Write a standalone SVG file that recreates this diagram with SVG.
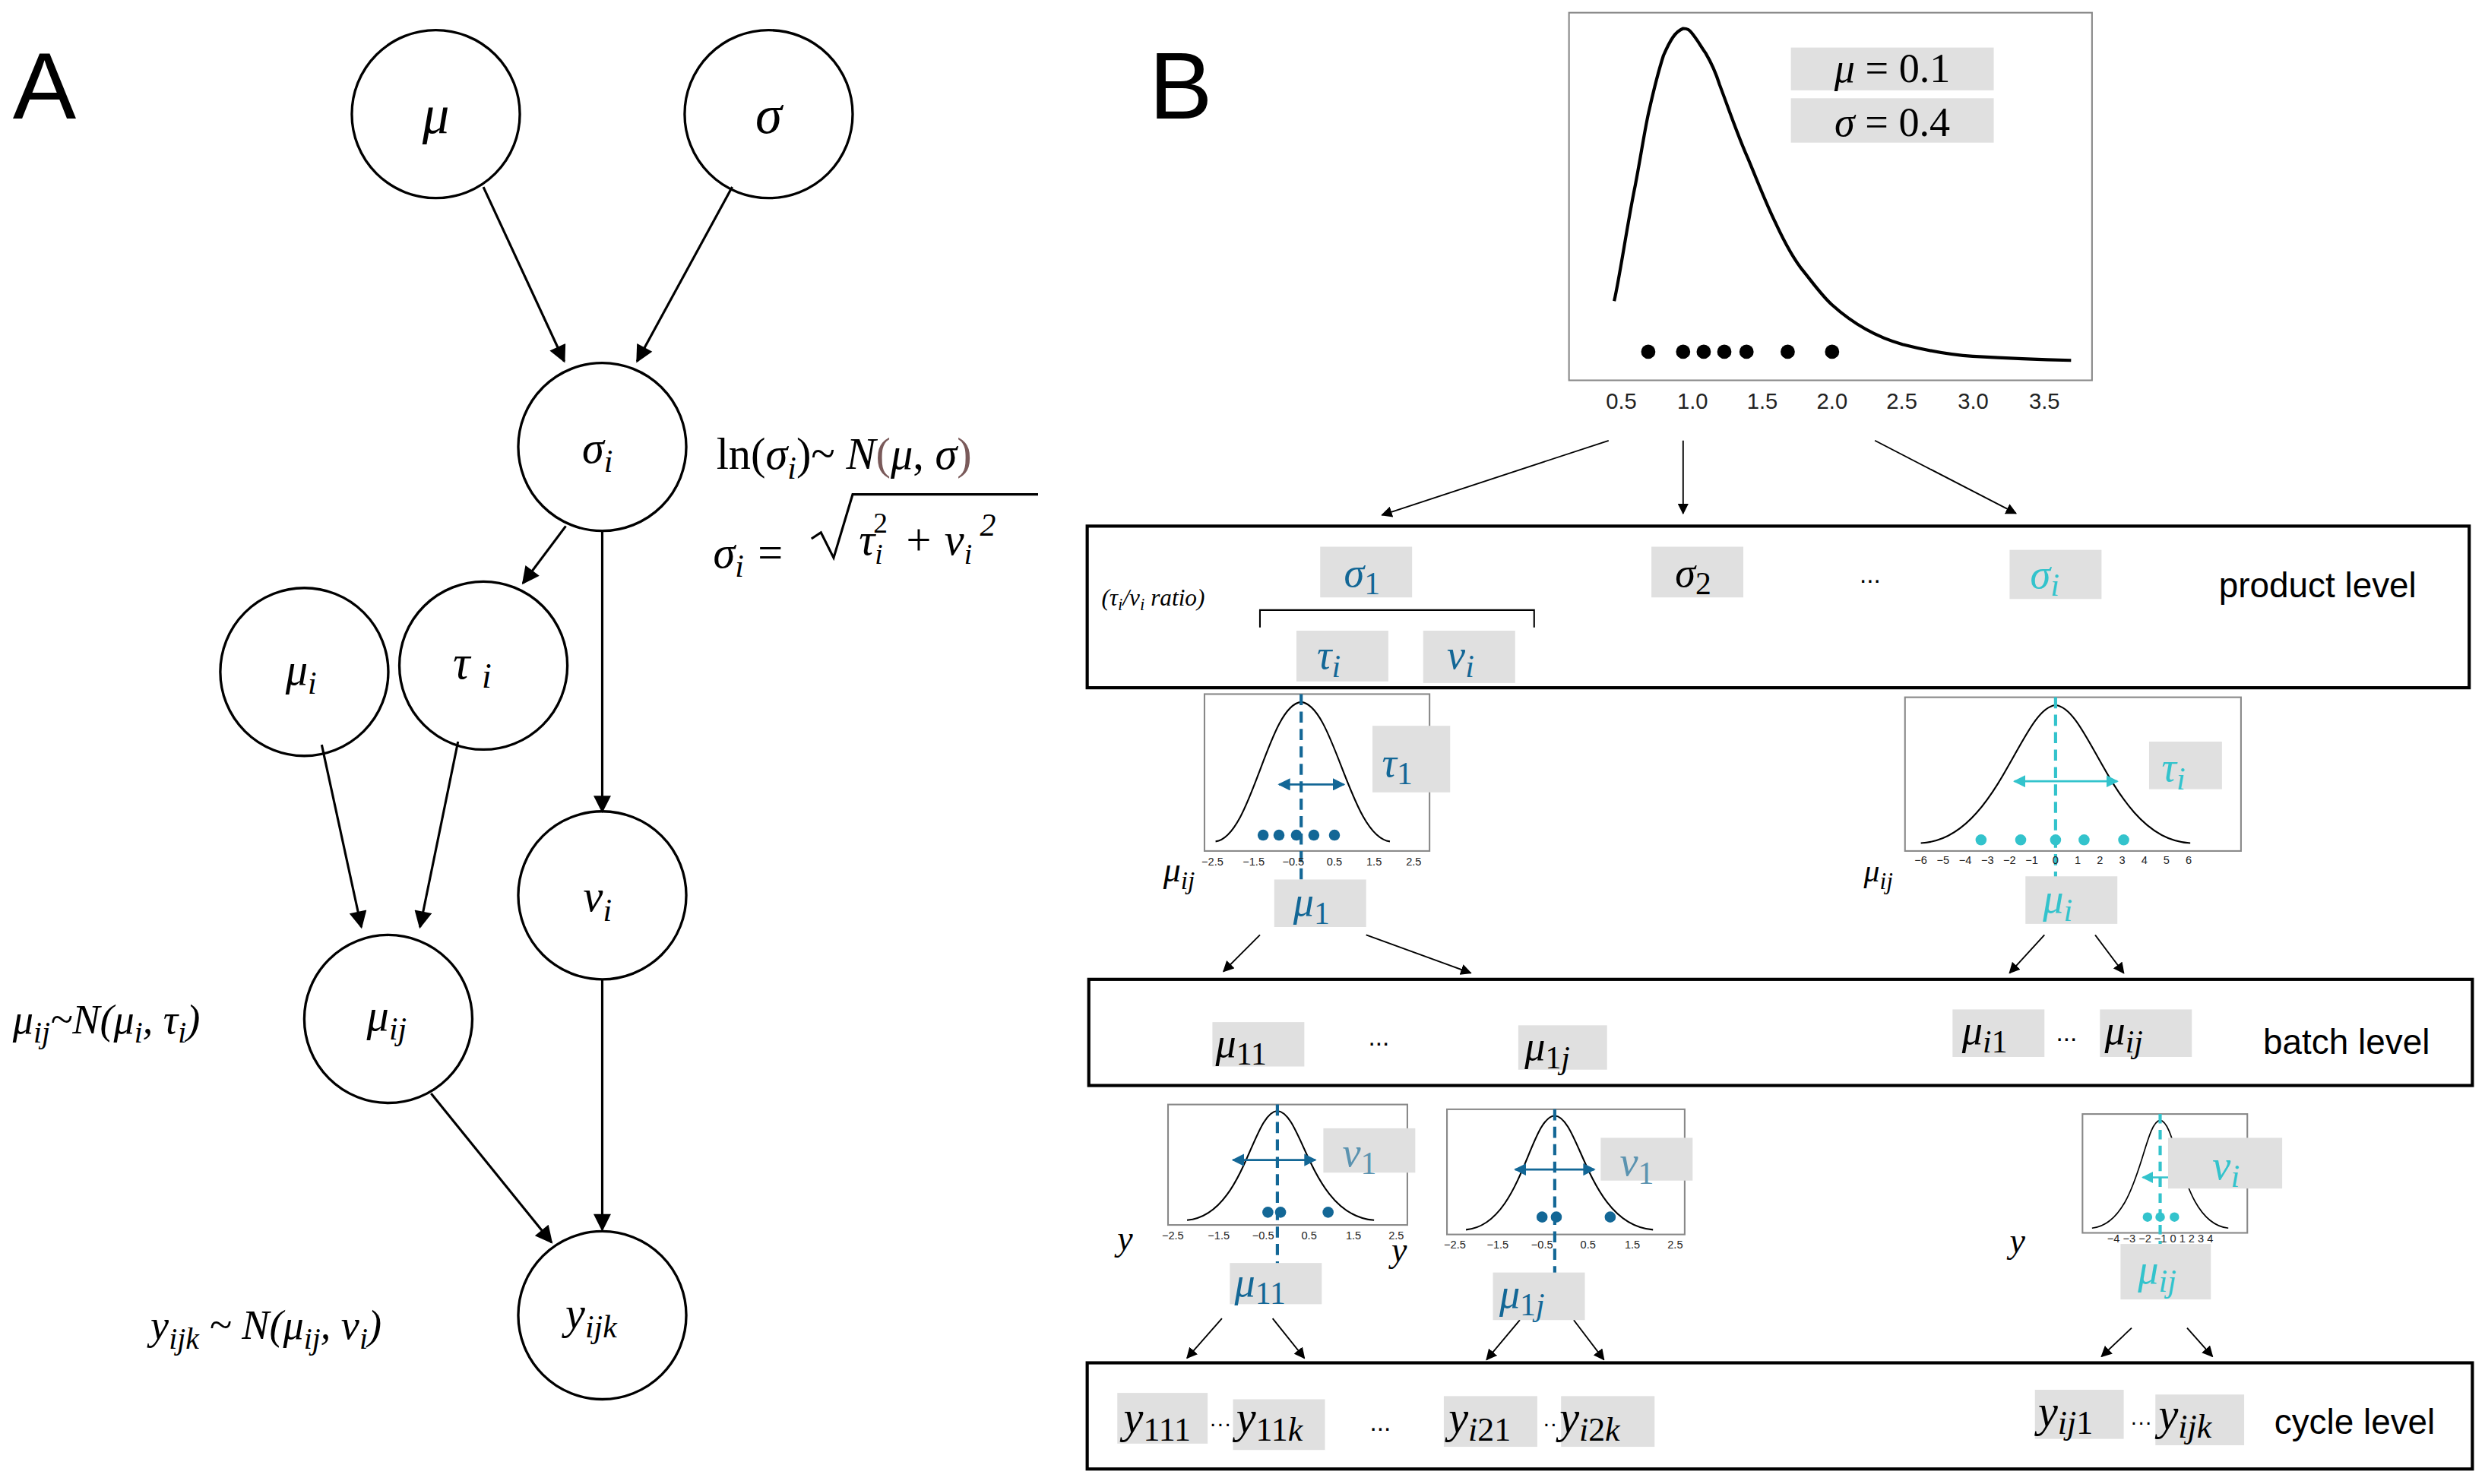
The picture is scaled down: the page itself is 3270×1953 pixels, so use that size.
<svg xmlns="http://www.w3.org/2000/svg" width="3270" height="1953" viewBox="0 0 3270 1953">
<defs>
<marker id="ah" viewBox="0 0 10 10" refX="9" refY="5" markerWidth="7" markerHeight="7" markerUnits="userSpaceOnUse" orient="auto"><path d="M0,0 L10,5 L0,10 z" fill="#000"/></marker>
<marker id="ahA" viewBox="0 0 10 10" refX="9" refY="5" markerWidth="13" markerHeight="11" markerUnits="userSpaceOnUse" orient="auto"><path d="M0,0 L10,5 L0,10 z" fill="#000"/></marker>
<marker id="ahb" viewBox="0 0 10 10" refX="9" refY="5" markerWidth="6" markerHeight="6" orient="auto-start-reverse"><path d="M0,0 L10,5 L0,10 z" fill="#136796"/></marker>
<marker id="ahc" viewBox="0 0 10 10" refX="9" refY="5" markerWidth="6" markerHeight="6" orient="auto-start-reverse"><path d="M0,0 L10,5 L0,10 z" fill="#33c3cc"/></marker>
<style>
.n{fill:#fff;stroke:#000;stroke-width:1.6}
.m{font-family:"Liberation Serif",serif;font-style:italic}
.r{font-family:"Liberation Serif",serif}
.u{font-style:normal}
.s{font-family:"Liberation Sans",Arial,sans-serif}
.g{fill:#e0e0e0}
.lv{fill:none;stroke:#000;stroke-width:2}
.pb{fill:#fff;stroke:#888;stroke-width:1}
.e{stroke:#000;stroke-width:1.5;fill:none;marker-end:url(#ahA)}
.t{stroke:#000;stroke-width:0.9;fill:none;marker-end:url(#ah)}
.bl{fill:#136796}.cy{fill:#33c3cc}.lb{fill:#5b93b0}
.tk{font-family:"Liberation Sans",Arial,sans-serif;font-size:7px;fill:#222}
</style>
</defs>
<rect width="3270" height="1953" fill="#fff"/>
<g transform="scale(2.0855)">
<g id="panelA">
<text x="8" y="75" class="s" font-size="60">A</text>
<g id="mu"><circle cx="275" cy="72" r="53" class="n"/><text x="275" y="84" class="m" font-size="34" text-anchor="middle">μ</text></g>
<g id="sigma"><circle cx="485" cy="72" r="53" class="n"/><text x="485" y="84" class="m" font-size="34" text-anchor="middle">σ</text></g>
<g id="sigma_i"><circle cx="380" cy="282" r="53" class="n"/><text x="377" y="292" class="m" font-size="28" text-anchor="middle">σ<tspan font-size="20" dy="6">i</tspan></text></g>
<g id="mu_i"><circle cx="192" cy="424" r="53" class="n"/><text x="190" y="432" class="m" font-size="28" text-anchor="middle">μ<tspan font-size="20" dy="6">i</tspan></text></g>
<g id="tau_i"><circle cx="305" cy="420" r="53" class="n"/><text x="298" y="428" class="m" font-size="30" text-anchor="middle">τ <tspan font-size="22" dy="6">i</tspan></text></g>
<g id="v_i"><circle cx="380" cy="565" r="53" class="n"/><text x="377" y="575" class="m" font-size="28" text-anchor="middle">v<tspan font-size="20" dy="6">i</tspan></text></g>
<g id="mu_ij"><circle cx="245" cy="643" r="53" class="n"/><text x="244" y="650" class="m" font-size="28" text-anchor="middle">μ<tspan font-size="20" dy="6">ij</tspan></text></g>
<g id="y_ijk"><circle cx="380" cy="830" r="53" class="n"/><text x="373" y="838" class="m" font-size="28" text-anchor="middle">y<tspan font-size="20" dy="6">ijk</tspan></text></g>
<g id="edgesA">
<line x1="305" y1="118" x2="356" y2="228" class="e"/>
<line x1="462" y1="118" x2="402" y2="228" class="e"/>
<line x1="357" y1="332" x2="330" y2="368" class="e"/>
<line x1="380" y1="335" x2="380" y2="512" class="e"/>
<line x1="203" y1="470" x2="228" y2="585" class="e"/>
<line x1="289" y1="468" x2="265" y2="585" class="e"/>
<line x1="272" y1="690" x2="348" y2="784" class="e"/>
<line x1="380" y1="618" x2="380" y2="776" class="e"/>
</g>
<g id="formulas">
<text x="452" y="296" class="r" font-size="28">ln(<tspan class="m">σ</tspan><tspan class="m" font-size="20" dy="6">i</tspan><tspan dy="-6">)~ </tspan><tspan class="m">N</tspan><tspan fill="#7a5a5a">(</tspan><tspan class="m">μ</tspan>, <tspan class="m">σ</tspan><tspan fill="#7a5a5a">)</tspan></text>
<text x="450" y="358" class="m" font-size="28">σ<tspan font-size="20" dy="6">i</tspan><tspan class="r" dy="-6"> =</tspan></text>
<path d="M512,340 L518,336 L526,352 L538,312 L655,312" fill="none" stroke="#000" stroke-width="1.5"/>
<text x="542" y="350" class="m" font-size="28">τ<tspan font-size="18" dy="6">i</tspan><tspan font-size="18" class="u" dx="-6" dy="-20">2</tspan><tspan class="r" dy="14" dx="10">+ </tspan><tspan>v</tspan><tspan font-size="18" dy="6">i</tspan><tspan font-size="20" dy="-18" class="r"> 2</tspan></text>
<text x="8" y="652" class="m" font-size="26">μ<tspan font-size="19" dy="6">ij</tspan><tspan class="r" dy="-6">~N(</tspan>μ<tspan font-size="19" dy="6">i</tspan><tspan class="r" dy="-6">,</tspan> τ<tspan font-size="19" dy="6">i</tspan><tspan class="r" dy="-6">)</tspan></text>
<text x="95" y="845" class="m" font-size="26">y<tspan font-size="19" dy="6">ijk</tspan><tspan class="r" dy="-6"> ~ </tspan>N<tspan class="r">(</tspan>μ<tspan font-size="19" dy="6">ij</tspan><tspan class="r" dy="-6">,</tspan> v<tspan font-size="19" dy="6">i</tspan><tspan class="r" dy="-6">)</tspan></text>
</g>
</g>

<g id="panelB">
<text x="725" y="75" class="s" font-size="60">B</text>
<g id="topplot">
<rect x="990" y="8" width="330" height="232" class="pb"/>
<path d="M1018.5,190 C1022,175 1027,140 1031.8,117 C1036,95 1038,80 1040.7,69 C1045,50 1048,40 1049.6,35 C1054,25 1057,20 1062,18 C1065,18 1066,19 1067.3,20.6 C1071,25 1073,29 1076.2,33.5 C1080,40 1083,47 1085,53.4 C1092,72 1097,87 1102.8,99.7 C1110,117 1115,130 1120.5,141 C1127,155 1132,164 1138.3,171.6 C1145,180 1150,187 1156,192.4 C1170,205 1185,213 1200.4,217.3 C1215,221 1230,224 1244.7,224.8 C1265,226 1290,227 1306.8,227.4" fill="none" stroke="#000" stroke-width="2"/>
<g fill="#000"><circle cx="1040" cy="222" r="4.5"/><circle cx="1062" cy="222" r="4.5"/><circle cx="1075" cy="222" r="4.5"/><circle cx="1088" cy="222" r="4.5"/><circle cx="1102" cy="222" r="4.5"/><circle cx="1128" cy="222" r="4.5"/><circle cx="1156" cy="222" r="4.5"/></g>
<g class="s" font-size="14" text-anchor="middle" fill="#222"><text x="1023" y="258">0.5</text><text x="1068" y="258">1.0</text><text x="1112" y="258">1.5</text><text x="1156" y="258">2.0</text><text x="1200" y="258">2.5</text><text x="1245" y="258">3.0</text><text x="1290" y="258">3.5</text></g>
<rect x="1130" y="30" width="128" height="27" class="g"/><text x="1194" y="52" class="r" font-size="26" text-anchor="middle"><tspan class="m">μ</tspan> = 0.1</text>
<rect x="1130" y="62" width="128" height="28" class="g"/><text x="1194" y="86" class="r" font-size="26" text-anchor="middle"><tspan class="m">σ</tspan> = 0.4</text>
</g>
<g id="connectorsB">
<line x1="1015" y1="278" x2="872" y2="325" class="t"/>
<line x1="1062" y1="278" x2="1062" y2="324" class="t"/>
<line x1="1183" y1="278" x2="1272" y2="324" class="t"/>
<line x1="795" y1="590" x2="772" y2="613" class="t"/>
<line x1="862" y1="590" x2="928" y2="614" class="t"/>
<line x1="1290" y1="590" x2="1268" y2="614" class="t"/>
<line x1="1322" y1="590" x2="1340" y2="614" class="t"/>
<line x1="771" y1="832" x2="749" y2="857" class="t"/>
<line x1="803" y1="832" x2="823" y2="857" class="t"/>
<line x1="959" y1="833" x2="938" y2="858" class="t"/>
<line x1="993" y1="833" x2="1012" y2="858" class="t"/>
<line x1="1345" y1="838" x2="1326" y2="856" class="t"/>
<line x1="1380" y1="838" x2="1396" y2="856" class="t"/>
</g>
<g id="product">
<rect x="686" y="332" width="872" height="102" class="lv"/>
<rect x="833" y="345" width="58" height="32" class="g"/><text x="848" y="370" class="m bl" font-size="26">σ<tspan font-size="20" class="u" dy="5">1</tspan></text>
<rect x="1042" y="345" width="58" height="32" class="g"/><text x="1057" y="370" class="m" font-size="26">σ<tspan font-size="20" class="u" dy="5">2</tspan></text>
<text x="1180" y="368" class="s" font-size="16" text-anchor="middle">...</text>
<rect x="1268" y="347" width="58" height="31" class="g"/><text x="1281" y="371" class="m cy" font-size="26">σ<tspan font-size="20" dy="5">i</tspan></text>
<text x="1400" y="377" class="s" font-size="22">product level</text>
<text x="695" y="382" class="m" font-size="15">(τ<tspan font-size="11" dy="3">i</tspan><tspan dy="-3">/v</tspan><tspan font-size="11" dy="3">i</tspan><tspan dy="-3"> ratio)</tspan></text>
<path d="M795,396 L795,385 L968,385 L968,396" fill="none" stroke="#000" stroke-width="1"/>
<rect x="818" y="398" width="58" height="32" class="g"/><text x="831" y="422" class="m bl" font-size="26">τ<tspan font-size="20" dy="5">i</tspan></text>
<rect x="898" y="398" width="58" height="33" class="g"/><text x="913" y="422" class="m bl" font-size="26">v<tspan font-size="20" dy="5">i</tspan></text>
</g>
<g id="plot_tau1">
<rect x="760" y="438" width="142" height="99" class="pb"/>
<path d="M767,531 C790,528 800,445 821,443 C842,445 852,528 877,531" fill="none" stroke="#000" stroke-width="1"/>
<g class="bl"><circle cx="797" cy="527" r="3.5"/><circle cx="807" cy="527" r="3.5"/><circle cx="818" cy="527" r="3.5"/><circle cx="829" cy="527" r="3.5"/><circle cx="842" cy="527" r="3.5"/></g>
<line x1="821" y1="438" x2="821" y2="572" stroke="#136796" stroke-width="2" stroke-dasharray="7 4"/>
<line x1="807" y1="495" x2="848" y2="495" stroke="#136796" stroke-width="1.3" marker-start="url(#ahb)" marker-end="url(#ahb)"/>
<rect x="866" y="458" width="49" height="42" class="g"/><text x="872" y="490" class="m bl" font-size="26">τ<tspan font-size="20" class="u" dy="5">1</tspan></text>
<g class="tk" text-anchor="middle"><text x="765" y="546">−2.5</text><text x="791" y="546">−1.5</text><text x="816" y="546">−0.5</text><text x="842" y="546">0.5</text><text x="867" y="546">1.5</text><text x="892" y="546">2.5</text></g>
<text x="734" y="556" class="m" font-size="22">μ<tspan font-size="16" dy="5">ij</tspan></text>
<rect x="804" y="555" width="58" height="30" class="g"/><text x="816" y="578" class="m bl" font-size="26">μ<tspan font-size="20" class="u" dy="5">1</tspan></text>
</g>
<g id="plot_taui">
<rect x="1202" y="440" width="212" height="97" class="pb"/>
<path d="M1212,532 C1260,530 1275,447 1297,445 C1319,447 1334,530 1382,532" fill="none" stroke="#000" stroke-width="1"/>
<g class="cy"><circle cx="1250" cy="530" r="3.5"/><circle cx="1275" cy="530" r="3.5"/><circle cx="1297" cy="530" r="3.5"/><circle cx="1315" cy="530" r="3.5"/><circle cx="1340" cy="530" r="3.5"/></g>
<line x1="1297" y1="440" x2="1297" y2="572" stroke="#33c3cc" stroke-width="2" stroke-dasharray="7 4"/>
<line x1="1271" y1="493" x2="1336" y2="493" stroke="#33c3cc" stroke-width="1.3" marker-start="url(#ahc)" marker-end="url(#ahc)"/>
<rect x="1356" y="468" width="46" height="30" class="g"/><text x="1364" y="493" class="m cy" font-size="26">τ<tspan font-size="20" dy="5">i</tspan></text>
<g class="tk" text-anchor="middle" font-size="5"><text x="1212" y="545">−6</text><text x="1226" y="545">−5</text><text x="1240" y="545">−4</text><text x="1254" y="545">−3</text><text x="1268" y="545">−2</text><text x="1282" y="545">−1</text><text x="1297" y="545">0</text><text x="1311" y="545">1</text><text x="1325" y="545">2</text><text x="1339" y="545">3</text><text x="1353" y="545">4</text><text x="1367" y="545">5</text><text x="1381" y="545">6</text></g>
<text x="1176" y="556" class="m" font-size="20">μ<tspan font-size="15" dy="5">ij</tspan></text>
<rect x="1278" y="553" width="58" height="30" class="g"/><text x="1289" y="576" class="m cy" font-size="26">μ<tspan font-size="20" dy="5">i</tspan></text>
</g>
<g id="batch">
<rect x="687" y="618" width="873" height="67" class="lv"/>
<rect x="765" y="645" width="58" height="28" class="g"/><text x="767" y="667" class="m" font-size="26">μ<tspan font-size="20" class="u" dy="5">11</tspan></text>
<text x="870" y="660" class="s" font-size="16" text-anchor="middle">...</text>
<rect x="958" y="647" width="56" height="28" class="g"/><text x="962" y="669" class="m" font-size="26">μ<tspan font-size="20" class="u" dy="5">1</tspan><tspan font-size="20">j</tspan></text>
<rect x="1232" y="637" width="58" height="30" class="g"/><text x="1238" y="659" class="m" font-size="26">μ<tspan font-size="20" dy="5">i</tspan><tspan font-size="20" class="u">1</tspan></text>
<text x="1304" y="657" class="s" font-size="16" text-anchor="middle">...</text>
<rect x="1325" y="637" width="58" height="30" class="g"/><text x="1328" y="659" class="m" font-size="26">μ<tspan font-size="20" dy="5">ij</tspan></text>
<text x="1428" y="665" class="s" font-size="22">batch level</text>
</g>
<g id="plot_v1a">
<rect x="737" y="697" width="151" height="76" class="pb"/>
<path d="M749,770 C785,767 790,702 806,701 C822,702 827,767 867,770" fill="none" stroke="#000" stroke-width="1"/>
<g class="bl"><circle cx="800" cy="765" r="3.5"/><circle cx="808" cy="765" r="3.5"/><circle cx="838" cy="765" r="3.5"/></g>
<line x1="806" y1="697" x2="806" y2="808" stroke="#136796" stroke-width="2" stroke-dasharray="7 4"/>
<line x1="778" y1="732" x2="830" y2="732" stroke="#136796" stroke-width="1.3" marker-start="url(#ahb)" marker-end="url(#ahb)"/>
<rect x="835" y="712" width="58" height="28" class="g"/><text x="847" y="736" class="m lb" font-size="26">v<tspan font-size="20" class="u" dy="5">1</tspan></text>
<g class="tk" text-anchor="middle" font-size="6"><text x="740" y="782">−2.5</text><text x="769" y="782">−1.5</text><text x="797" y="782">−0.5</text><text x="826" y="782">0.5</text><text x="854" y="782">1.5</text><text x="881" y="782">2.5</text></g>
<text x="705" y="789" class="m" font-size="22">y</text>
<rect x="776" y="797" width="58" height="26" class="g"/><text x="779" y="818" class="m bl" font-size="26">μ<tspan font-size="20" class="u" dy="5">11</tspan></text>
</g>
<g id="plot_v1b">
<rect x="913" y="700" width="150" height="79" class="pb"/>
<path d="M925,776 C960,773 965,705 981,704 C997,705 1002,773 1043,776" fill="none" stroke="#000" stroke-width="1"/>
<g class="bl"><circle cx="973" cy="768" r="3.5"/><circle cx="982" cy="768" r="3.5"/><circle cx="1016" cy="768" r="3.5"/></g>
<line x1="981" y1="700" x2="981" y2="812" stroke="#136796" stroke-width="2" stroke-dasharray="7 4"/>
<line x1="956" y1="738" x2="1006" y2="738" stroke="#136796" stroke-width="1.3" marker-start="url(#ahb)" marker-end="url(#ahb)"/>
<rect x="1010" y="718" width="58" height="27" class="g"/><text x="1022" y="742" class="m lb" font-size="26">v<tspan font-size="20" class="u" dy="5">1</tspan></text>
<g class="tk" text-anchor="middle" font-size="6"><text x="918" y="788">−2.5</text><text x="945" y="788">−1.5</text><text x="973" y="788">−0.5</text><text x="1002" y="788">0.5</text><text x="1030" y="788">1.5</text><text x="1057" y="788">2.5</text></g>
<text x="878" y="796" class="m" font-size="22">y</text>
<rect x="942" y="803" width="58" height="30" class="g"/><text x="946" y="825" class="m bl" font-size="26">μ<tspan font-size="20" class="u" dy="5">1</tspan><tspan font-size="20">j</tspan></text>
</g>
<g id="plot_vi">
<rect x="1314" y="703" width="104" height="75" class="pb"/>
<path d="M1320,775 C1350,772 1352,708 1363,707 C1374,708 1376,772 1406,775" fill="none" stroke="#000" stroke-width="0.8"/>
<g class="cy"><circle cx="1355" cy="768" r="3"/><circle cx="1363" cy="768" r="3"/><circle cx="1372" cy="768" r="3"/></g>
<line x1="1363" y1="703" x2="1363" y2="785" stroke="#33c3cc" stroke-width="2" stroke-dasharray="6 4"/>
<line x1="1352" y1="743" x2="1380" y2="743" stroke="#33c3cc" stroke-width="1.2" marker-start="url(#ahc)" marker-end="url(#ahc)"/>
<rect x="1368" y="718" width="72" height="32" class="g"/><text x="1396" y="744" class="m cy" font-size="26">v<tspan font-size="20" dy="5">i</tspan></text>
<g class="tk" text-anchor="middle" font-size="4"><text x="1363" y="784">−4 −3 −2 −1 0 1 2 3 4</text></g>
<text x="1268" y="790" class="m" font-size="22">y</text>
<rect x="1338" y="785" width="57" height="35" class="g"/><text x="1349" y="810" class="m cy" font-size="26">μ<tspan font-size="20" dy="5">ij</tspan></text>
</g>
<g id="cycle">
<rect x="686" y="860" width="874" height="67" class="lv"/>
<rect x="705" y="879" width="57" height="32" class="g"/><text x="709" y="904" class="m" font-size="28">y<tspan font-size="21" class="u" dy="5">111</tspan></text>
<text x="770" y="903" class="s" font-size="14" text-anchor="middle">···</text>
<rect x="778" y="883" width="58" height="32" class="g"/><text x="780" y="904" class="m" font-size="28">y<tspan font-size="21" class="u" dy="5">11</tspan><tspan font-size="21">k</tspan></text>
<text x="871" y="903" class="s" font-size="16" text-anchor="middle">...</text>
<rect x="911" y="881" width="59" height="32" class="g"/><text x="914" y="904" class="m" font-size="28">y<tspan font-size="21" dy="5">i</tspan><tspan font-size="21" class="u">21</tspan></text>
<text x="978" y="903" class="s" font-size="14" text-anchor="middle">··</text>
<rect x="985" y="881" width="59" height="32" class="g"/><text x="984" y="904" class="m" font-size="28">y<tspan font-size="21" dy="5">i</tspan><tspan font-size="21" class="u">2</tspan><tspan font-size="21">k</tspan></text>
<rect x="1284" y="877" width="56" height="31" class="g"/><text x="1286" y="900" class="m" font-size="28">y<tspan font-size="21" dy="5">ij</tspan><tspan font-size="21" class="u">1</tspan></text>
<text x="1351" y="902" class="s" font-size="14" text-anchor="middle">···</text>
<rect x="1360" y="880" width="56" height="32" class="g"/><text x="1362" y="902" class="m" font-size="28">y<tspan font-size="21" dy="5">ijk</tspan></text>
<text x="1435" y="905" class="s" font-size="22">cycle level</text>
</g>
</g>
</g>
</svg>
